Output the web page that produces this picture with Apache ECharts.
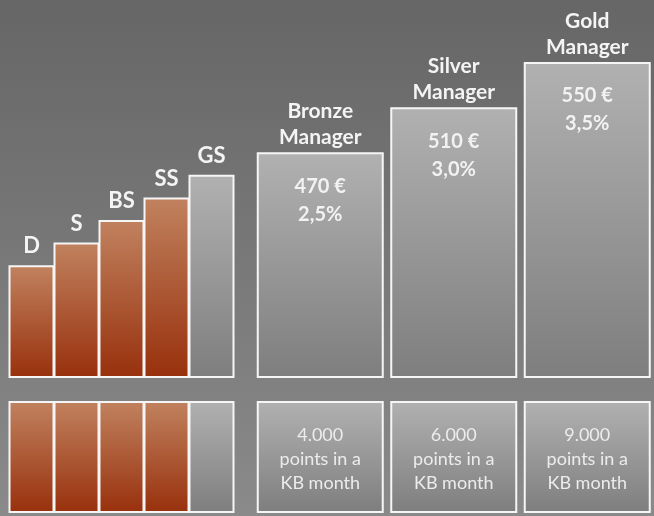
<!DOCTYPE html>
<html>
<head>
<meta charset="utf-8">
<script src="https://cdn.jsdelivr.net/npm/echarts@6/dist/echarts.min.js"></script>
<style>
  html, body { margin: 0; padding: 0; }
  #chart { width: 654px; height: 516px; background: linear-gradient(to bottom, #666666 0%, #8a8a8a 100%); }
</style>
</head>
<body>
<div id="chart"></div>
<script>
// ---- data ----
const stepCategories = ['D', 'S', 'BS', 'SS', 'GS'];
const stepLevels = [5, 6, 7, 8, 9];
const stepIsCopper = [true, true, true, true, false];
const managerCategories = ['Bronze\nManager', 'Silver\nManager', 'Gold\nManager'];
const managerLevels = [10, 12, 14];
const managerBonus = ['470 €', '510 €', '550 €'];
const managerRate = ['2,5%', '3,0%', '3,5%'];
const managerPoints = ['4.000', '6.000', '9.000'];
const pointsText = 'points in a\nKB month';
const boxLevel = 1;

// ---- styles ----
const FONT = 'Lato';
const copper = { type: 'linear', x: 0, y: 0, x2: 0, y2: 1,
  colorStops: [{ offset: 0, color: '#c1825f' }, { offset: 1, color: '#98300c' }] };
const gray = { type: 'linear', x: 0, y: 0, x2: 0, y2: 1,
  colorStops: [{ offset: 0, color: '#b1b1b1' }, { offset: 1, color: '#7e7e7e' }] };
const border = { borderColor: '#f6f6f6', borderWidth: 2 };

function stepData() {
  return stepLevels.map((v, i) => ({ value: v, itemStyle: Object.assign({ color: stepIsCopper[i] ? copper : gray }, border) }));
}
function stepBoxData() {
  return stepLevels.map((v, i) => ({ value: boxLevel, itemStyle: Object.assign({ color: stepIsCopper[i] ? copper : gray }, border) }));
}

const hiddenX = (cats, gi) => ({ type: 'category', data: cats, gridIndex: gi, show: false });
const hiddenY = (max, gi) => ({ type: 'value', min: 0, max: max, gridIndex: gi, show: false });

const topY = 62, topBottom = 516 - 378;
const option = {
  backgroundColor: 'transparent',
  animation: false,
  grid: [
    { left: 9, width: 225, top: topY, bottom: topBottom },
    { left: 253.5, width: 405, top: topY, bottom: topBottom },
    { left: 9, width: 225, top: 401, bottom: 3 },
    { left: 253.5, width: 405, top: 401, bottom: 3 }
  ],
  xAxis: [
    hiddenX(stepCategories, 0),
    hiddenX(managerCategories, 1),
    hiddenX(stepCategories, 2),
    hiddenX(managerCategories, 3)
  ],
  yAxis: [
    hiddenY(14, 0), hiddenY(14, 1), hiddenY(1, 2), hiddenY(1, 3)
  ],
  series: [
    {
      type: 'bar', xAxisIndex: 0, yAxisIndex: 0, barWidth: 46,
      data: stepData(),
      label: { show: true, position: 'top', distance: 9, formatter: p => stepCategories[p.dataIndex],
        color: '#f4f4f4', fontFamily: FONT, fontWeight: 'bold', fontSize: 22, lineHeight: 20 }
    },
    {
      type: 'bar', xAxisIndex: 1, yAxisIndex: 1, barWidth: 127,
      data: managerLevels.map(v => ({ value: v, itemStyle: Object.assign({ color: gray }, border) })),
      label: { show: true, position: 'top', distance: 2, formatter: p => managerCategories[p.dataIndex],
        color: '#f4f4f4', fontFamily: FONT, fontWeight: 'bold', fontSize: 21, lineHeight: 26 }
    },
    {
      type: 'bar', xAxisIndex: 1, yAxisIndex: 1, barWidth: 127, barGap: '-100%',
      data: managerLevels.map(v => ({ value: v, itemStyle: { color: 'rgba(0,0,0,0)' } })),
      silent: true,
      label: { show: true, position: 'insideTop', distance: 20,
        formatter: p => managerBonus[p.dataIndex] + '\n' + managerRate[p.dataIndex],
        color: '#f2f2f2', fontFamily: FONT, fontWeight: 'bold', fontSize: 20, lineHeight: 28 }
    },
    {
      type: 'bar', xAxisIndex: 2, yAxisIndex: 2, barWidth: 46,
      data: stepBoxData()
    },
    {
      type: 'bar', xAxisIndex: 3, yAxisIndex: 3, barWidth: 127,
      data: managerPoints.map(v => ({ value: boxLevel, itemStyle: Object.assign({ color: gray }, border) })),
      label: { show: true, position: 'inside',
        formatter: p => managerPoints[p.dataIndex] + '\n' + pointsText,
        color: '#ececec', fontFamily: FONT, fontSize: 18, lineHeight: 24, offset: [0, 2] }
    }
  ]
};
const chart = echarts.init(document.getElementById('chart'), null, { renderer: 'canvas' });
chart.setOption(option);
</script>
</body>
</html>
